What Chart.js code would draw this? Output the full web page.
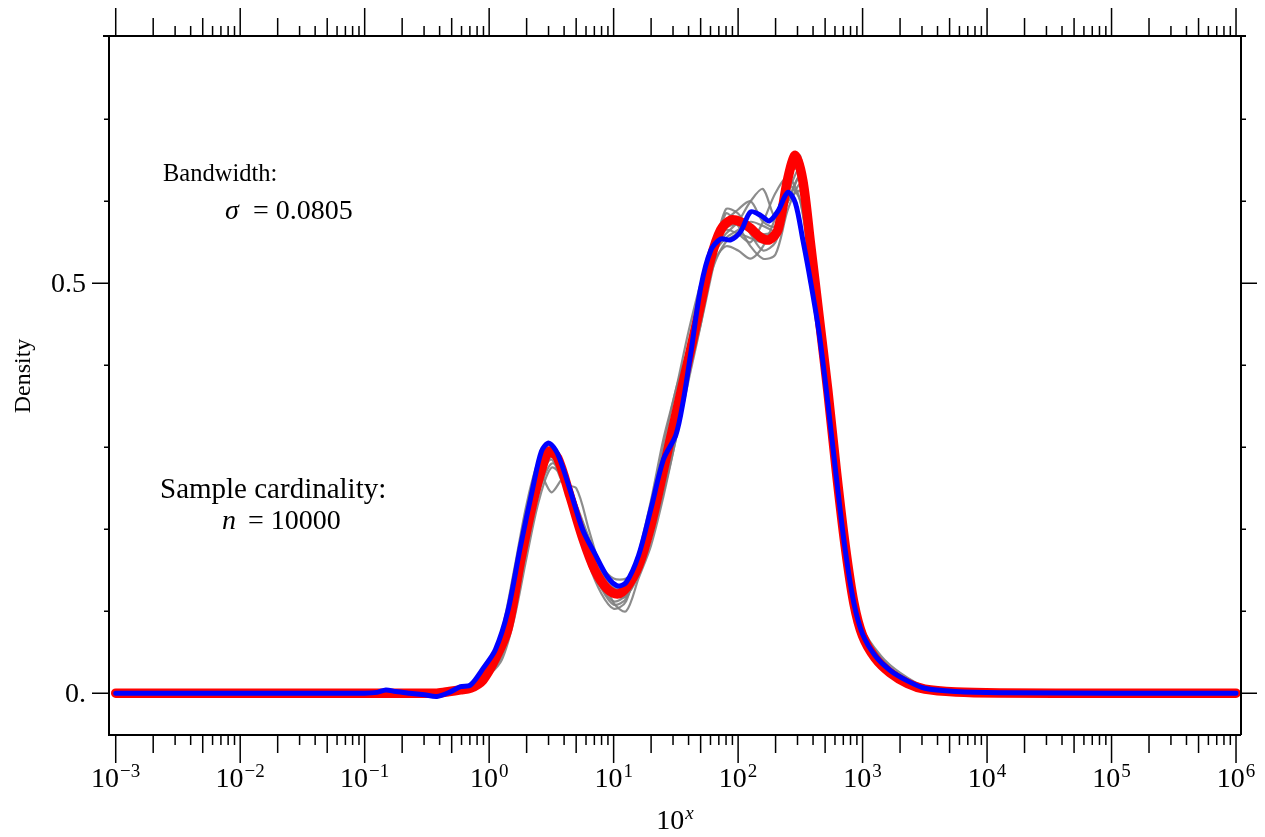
<!DOCTYPE html>
<html>
<head>
<meta charset="utf-8">
<script src="https://cdn.jsdelivr.net/npm/chart.js@4/dist/chart.umd.min.js"></script>
<style>
  html, body { margin: 0; padding: 0; background: #fff; }
  canvas { display: block; }
</style>
</head>
<body>
<canvas id="densityChart" width="1265" height="837"></canvas>
<script>
// x values are log10 of the sample value (axis labelled 10^x)
const xs = [
    -3, -1.5, -1.0, -0.9, -0.83, -0.75, -0.64, -0.52, -0.42, -0.32,
    -0.23, -0.15, -0.05, 0.05, 0.15, 0.25, 0.35, 0.42, 0.48, 0.55,
    0.65, 0.75, 0.85, 0.95, 1.03, 1.1, 1.2, 1.3, 1.4, 1.5,
    1.56, 1.62, 1.7, 1.78, 1.86, 1.94, 2.02, 2.1, 2.18, 2.25,
    2.32, 2.4, 2.46, 2.52, 2.58, 2.65, 2.72, 2.79, 2.86, 2.93,
    3.0, 3.1, 3.22, 3.36, 3.5, 3.75, 4.1, 5, 6
];

// true density (thick red)
const exactDensity = [
    0, 0, 0, 0, 0, 0, 0, 0, 0, 0.002,
    0.004, 0.006, 0.016, 0.042, 0.078, 0.16, 0.232, 0.272, 0.295, 0.287,
    0.24, 0.19, 0.15, 0.127, 0.121, 0.128, 0.155, 0.205, 0.272, 0.34,
    0.38, 0.42, 0.475, 0.53, 0.565, 0.577, 0.575, 0.567, 0.556, 0.553,
    0.565, 0.628, 0.656, 0.625, 0.55, 0.46, 0.37, 0.27, 0.18, 0.11,
    0.07, 0.043, 0.025, 0.012, 0.005, 0.0015, 0.0003, 0, 0
];

// kernel estimate from the full sample (blue)
const estimateDensity = [
    0, 0, 0, 0.001, 0.004, 0.002, 0, -0.002, -0.004, 0.001,
    0.008, 0.01, 0.03, 0.053, 0.1, 0.178, 0.25, 0.295, 0.305, 0.292,
    0.248, 0.2, 0.17, 0.142, 0.131, 0.135, 0.168, 0.225, 0.285, 0.315,
    0.357, 0.415, 0.495, 0.54, 0.554, 0.553, 0.563, 0.587, 0.583, 0.576,
    0.588, 0.611, 0.598, 0.553, 0.504, 0.44, 0.355, 0.262, 0.175, 0.11,
    0.072, 0.046, 0.028, 0.015, 0.006, 0.002, 0.0005, 0, 0
];

// grid for the resampled estimates (gray)
const resampleX = [
    -1, -0.6, -0.4, -0.25, -0.1, 0, 0.1, 0.2, 0.3, 0.4,
    0.5, 0.6, 0.7, 0.8, 0.9, 1.0, 1.1, 1.2, 1.3, 1.4,
    1.5, 1.6, 1.7, 1.8, 1.9, 2.0, 2.1, 2.2, 2.3, 2.4,
    2.5, 2.6, 2.7, 2.8, 2.9, 3.0, 3.15, 3.3, 3.5, 3.8,
    4.2
];

const resample1 = [
    0, 0, -0.002, 0.002, 0.012, 0.035, 0.075, 0.15, 0.23, 0.285,
    0.3, 0.27, 0.21, 0.158, 0.122, 0.103, 0.112, 0.17, 0.235, 0.31,
    0.37, 0.44, 0.5, 0.54, 0.56, 0.575, 0.6, 0.615, 0.58, 0.6,
    0.63, 0.5, 0.37, 0.235, 0.125, 0.065, 0.034, 0.018, 0.006, 0.001,
    0
];
const resample2 = [
    0, 0.001, 0.002, 0.005, 0.008, 0.025, 0.05, 0.1, 0.18, 0.27,
    0.245, 0.262, 0.22, 0.17, 0.14, 0.125, 0.13, 0.16, 0.21, 0.275,
    0.335, 0.4, 0.47, 0.525, 0.545, 0.54, 0.53, 0.545, 0.58, 0.62,
    0.6, 0.5, 0.385, 0.26, 0.145, 0.074, 0.036, 0.017, 0.005, 0.001,
    0
];
const resample3 = [
    0, 0, 0.001, 0.004, 0.01, 0.022, 0.04, 0.09, 0.165, 0.235,
    0.275, 0.262, 0.225, 0.18, 0.15, 0.11, 0.1, 0.14, 0.18, 0.24,
    0.31, 0.38, 0.45, 0.53, 0.59, 0.585, 0.56, 0.54, 0.55, 0.6,
    0.63, 0.54, 0.42, 0.285, 0.16, 0.08, 0.042, 0.022, 0.007, 0.001,
    0
];
const resample4 = [
    0, 0, -0.003, 0.001, 0.01, 0.035, 0.065, 0.13, 0.21, 0.275,
    0.29, 0.255, 0.205, 0.165, 0.14, 0.128, 0.135, 0.165, 0.22, 0.285,
    0.355, 0.42, 0.49, 0.535, 0.555, 0.565, 0.575, 0.57, 0.565, 0.63,
    0.655, 0.525, 0.4, 0.265, 0.145, 0.075, 0.038, 0.019, 0.006, 0.001,
    0
];
const resample5 = [
    0, 0, 0, 0.003, 0.009, 0.027, 0.055, 0.118, 0.195, 0.26,
    0.288, 0.27, 0.225, 0.172, 0.135, 0.118, 0.122, 0.148, 0.198, 0.265,
    0.335, 0.39, 0.45, 0.52, 0.585, 0.57, 0.545, 0.53, 0.535, 0.59,
    0.62, 0.515, 0.39, 0.255, 0.14, 0.072, 0.04, 0.022, 0.008, 0.002,
    0
];
const resample6 = [
    0, 0.001, 0, 0.002, 0.011, 0.031, 0.06, 0.122, 0.2, 0.265,
    0.292, 0.268, 0.23, 0.19, 0.15, 0.128, 0.12, 0.145, 0.2, 0.268,
    0.33, 0.395, 0.47, 0.545, 0.575, 0.58, 0.57, 0.56, 0.565, 0.61,
    0.64, 0.52, 0.395, 0.26, 0.14, 0.07, 0.034, 0.016, 0.005, 0.001,
    0
];
const resample7 = [
    0, 0, 0.001, 0.003, 0.01, 0.03, 0.058, 0.12, 0.2, 0.26,
    0.285, 0.255, 0.25, 0.2, 0.15, 0.12, 0.118, 0.152, 0.205, 0.272,
    0.345, 0.415, 0.49, 0.545, 0.565, 0.56, 0.55, 0.575, 0.61, 0.63,
    0.6, 0.49, 0.38, 0.25, 0.138, 0.07, 0.035, 0.017, 0.005, 0.001,
    0
];
const resample8 = [
    0, 0, -0.001, 0.004, 0.014, 0.036, 0.07, 0.145, 0.225, 0.28,
    0.293, 0.262, 0.208, 0.162, 0.13, 0.112, 0.12, 0.165, 0.23, 0.3,
    0.37, 0.42, 0.47, 0.53, 0.575, 0.59, 0.6, 0.575, 0.57, 0.64,
    0.635, 0.51, 0.385, 0.25, 0.135, 0.068, 0.034, 0.016, 0.005, 0.001,
    0
];
const resample9 = [
    0, 0, 0.002, 0.003, 0.008, 0.022, 0.045, 0.1, 0.175, 0.245,
    0.28, 0.27, 0.23, 0.185, 0.155, 0.14, 0.14, 0.155, 0.19, 0.245,
    0.31, 0.39, 0.465, 0.52, 0.55, 0.56, 0.555, 0.55, 0.56, 0.6,
    0.612, 0.51, 0.41, 0.28, 0.155, 0.08, 0.045, 0.025, 0.008, 0.001,
    0
];
const resample10 = [
    0, 0, 0, 0.002, 0.01, 0.03, 0.06, 0.124, 0.202, 0.265,
    0.296, 0.266, 0.212, 0.162, 0.128, 0.108, 0.115, 0.155, 0.208, 0.275,
    0.343, 0.41, 0.482, 0.54, 0.567, 0.572, 0.565, 0.552, 0.56, 0.625,
    0.65, 0.522, 0.395, 0.262, 0.142, 0.071, 0.035, 0.017, 0.005, 0.001,
    0
];
const resamples = [
    resample1, resample2, resample3, resample4, resample5,
    resample6, resample7, resample8, resample9, resample10
];

const decades = [-3, -2, -1, 0, 1, 2, 3, 4, 5, 6];
const decadeExponents = ["\u22123", "\u22122", "\u22121", "0", "1", "2", "3", "4", "5", "6"];
const yMajorTicks = [0, 0.5];
const yMajorLabels = ["0.", "0.5"];
const yMinorTicks = [0.1, 0.2, 0.3, 0.4, 0.6, 0.7];

const SERIF = '"Liberation Serif", "Times New Roman", serif';

function toPoints(xVals, yVals) {
    return yVals.map((v, i) => ({ x: xVals[i], y: v }));
}

function drawPower(ctx, cx, baseline, exponent, italicExp) {
    const baseFont = `28px ${SERIF}`;
    const expFont = `${italicExp ? "italic " : ""}19px ${SERIF}`;
    ctx.font = baseFont;
    const baseW = ctx.measureText("10").width;
    ctx.font = expFont;
    const expW = ctx.measureText(exponent).width;
    const left = cx - (baseW + expW + 1) / 2;
    ctx.textAlign = "left";
    ctx.textBaseline = "alphabetic";
    ctx.font = baseFont;
    ctx.fillText("10", left, baseline);
    ctx.font = expFont;
    ctx.fillText(exponent, left + baseW + 1, baseline - 10.5);
}

const frameAxes = {
    id: "frameAxes",
    afterDatasetsDraw(chart) {
        const { ctx, chartArea: area, scales: { x, y } } = chart;
        ctx.save();
        ctx.strokeStyle = "#000";
        ctx.fillStyle = "#000";

        // frame; the top edge runs a little past both corners
        ctx.lineWidth = 2;
        ctx.beginPath();
        ctx.moveTo(area.left - 6, area.top);
        ctx.lineTo(area.right + 5, area.top);
        ctx.moveTo(area.left, area.top);
        ctx.lineTo(area.left, area.bottom);
        ctx.lineTo(area.right, area.bottom);
        ctx.moveTo(area.right, area.top);
        ctx.lineTo(area.right, area.bottom);
        ctx.stroke();

        // log ticks on top and bottom, pointing outward
        ctx.lineWidth = 1.5;
        ctx.beginPath();
        const xTick = (value, len) => {
            const px = x.getPixelForValue(value);
            ctx.moveTo(px, area.top);
            ctx.lineTo(px, area.top - len);
            ctx.moveTo(px, area.bottom);
            ctx.lineTo(px, area.bottom + len);
        };
        decades.forEach((k, i) => {
            xTick(k, 28);
            if (i === decades.length - 1) return;
            for (let m = 2; m <= 9; m++) {
                xTick(k + Math.log10(m), (m === 2 || m === 5) ? 18 : 10);
            }
        });

        // y ticks on both sides
        yMajorTicks.forEach(v => {
            const py = y.getPixelForValue(v);
            ctx.moveTo(area.left, py);
            ctx.lineTo(area.left - 17, py);
            ctx.moveTo(area.right, py);
            ctx.lineTo(area.right + 16, py);
        });
        yMinorTicks.forEach(v => {
            const py = y.getPixelForValue(v);
            ctx.moveTo(area.left, py);
            ctx.lineTo(area.left - 5, py);
            ctx.moveTo(area.right, py);
            ctx.lineTo(area.right + 5, py);
        });
        ctx.stroke();

        // tick labels
        ctx.font = `28px ${SERIF}`;
        ctx.textAlign = "right";
        ctx.textBaseline = "alphabetic";
        yMajorTicks.forEach((v, i) => {
            ctx.fillText(yMajorLabels[i], 86, y.getPixelForValue(v) + 9);
        });
        decades.forEach((k, i) => {
            drawPower(ctx, x.getPixelForValue(k), 787, decadeExponents[i], false);
        });

        // axis titles
        drawPower(ctx, (area.left + area.right) / 2, 829, "x", true);
        ctx.save();
        ctx.translate(30, 376);
        ctx.rotate(-Math.PI / 2);
        ctx.font = `24px ${SERIF}`;
        ctx.textAlign = "center";
        ctx.fillText("Density", 0, 0);
        ctx.restore();

        // annotations
        ctx.textAlign = "left";
        ctx.font = `24.5px ${SERIF}`;
        ctx.fillText("Bandwidth:", 163, 181);
        ctx.font = `italic 28px ${SERIF}`;
        ctx.fillText("\u03c3", 225, 219);
        ctx.font = `28px ${SERIF}`;
        ctx.fillText("= 0.0805", 253, 219);

        ctx.font = `29px ${SERIF}`;
        ctx.fillText("Sample cardinality:", 160, 498);
        ctx.font = `italic 28px ${SERIF}`;
        ctx.fillText("n", 222, 529);
        ctx.font = `28px ${SERIF}`;
        ctx.fillText("= 10000", 248, 529);

        ctx.restore();
    }
};

const grayDatasets = resamples.map(vals => ({
    data: toPoints(resampleX, vals),
    borderColor: "rgba(128, 128, 128, 0.9)",
    borderWidth: 2.2,
    order: 2
}));

new Chart(document.getElementById("densityChart"), {
    type: "line",
    data: {
        datasets: [
            {
                data: toPoints(xs, estimateDensity),
                borderColor: "#0000ff",
                borderWidth: 5,
                order: 0
            },
            {
                data: toPoints(xs, exactDensity),
                borderColor: "#ff0000",
                borderWidth: 9.5,
                order: 1
            },
            ...grayDatasets
        ]
    },
    options: {
        responsive: false,
        animation: false,
        events: [],
        layout: { padding: { left: 109, top: 36, right: 24, bottom: 102 } },
        plugins: {
            legend: { display: false },
            tooltip: { enabled: false }
        },
        elements: {
            point: { radius: 0 },
            line: { tension: 0.3, borderCapStyle: "round", borderJoinStyle: "round", fill: false }
        },
        scales: {
            x: { type: "linear", min: -3.054, max: 6.04, display: false },
            y: { type: "linear", min: -0.051, max: 0.8016, display: false }
        }
    },
    plugins: [frameAxes]
});
</script>
</body>
</html>
